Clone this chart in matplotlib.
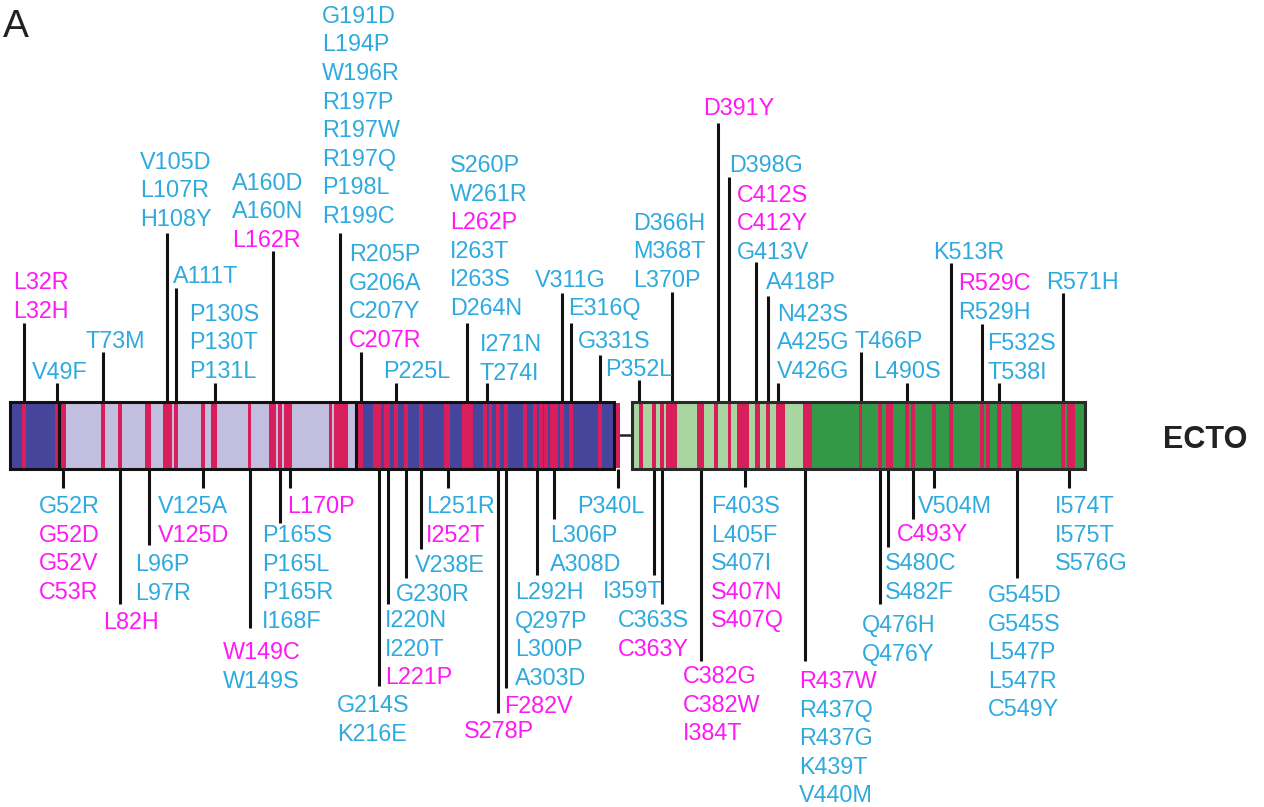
import matplotlib
matplotlib.use("Agg")
import matplotlib.pyplot as plt
from matplotlib.patches import Rectangle

# ---------------- data ----------------
# domains: (start residue, end residue, colour key, box id)
domain_start = [25, 50, 204, 347.5, 436]
domain_end = [50, 204, 338, 436, 582.5]
domain_kind = ["dark_blue", "lavender", "dark_blue", "light_green", "green"]
domain_box = [1, 1, 1, 2, 2]

# mutation groups above the bar
up_res = [32, 49, 73, 106, 111, 131, 161, 196, 207, 225, 262, 272, 311, 316,
          331, 351, 368, 392, 398, 412, 418, 423, 466, 490, 513, 529, 538, 571]
up_labels = [
    ["L32R", "L32H"], ["V49F"], ["T73M"], ["V105D", "L107R", "H108Y"], ["A111T"],
    ["P130S", "P130T", "P131L"], ["A160D", "A160N", "L162R"],
    ["G191D", "L194P", "W196R", "R197P", "R197W", "R197Q", "P198L", "R199C"],
    ["R205P", "G206A", "C207Y", "C207R"], ["P225L"],
    ["S260P", "W261R", "L262P", "I263T", "I263S", "D264N"], ["I271N", "T274I"],
    ["V311G"], ["E316Q"], ["G331S"], ["P352L"], ["D366H", "M368T", "L370P"],
    ["D391Y"], ["D398G"], ["C412S", "C412Y", "G413V"], ["A418P"],
    ["N423S", "A425G", "V426G"], ["T466P"], ["L490S"], ["K513R"],
    ["R529C", "R529H"], ["F532S", "T538I"], ["R571H"],
]

# mutation groups below the bar
down_res = [52.5, 82, 97, 125, 149, 165, 170, 216, 221, 230, 238, 252, 278, 282,
            298, 307, 340, 359, 363, 383, 406, 437, 476, 480, 493, 504, 547, 574]
down_labels = [
    ["G52R", "G52D", "G52V", "C53R"], ["L82H"], ["L96P", "L97R"], ["V125A", "V125D"],
    ["W149C", "W149S"], ["P165S", "P165L", "P165R", "I168F"], ["L170P"],
    ["G214S", "K216E"], ["I220N", "I220T", "L221P"], ["G230R"], ["V238E"],
    ["L251R", "I252T"], ["S278P"], ["F282V"], ["L292H", "Q297P", "L300P", "A303D"],
    ["L306P", "A308D"], ["P340L"], ["I359T"], ["C363S", "C363Y"],
    ["C382G", "C382W", "I384T"], ["F403S", "L405F", "S407I", "S407N", "S407Q"],
    ["R437W", "R437Q", "R437G", "K439T", "V440M"], ["Q476H", "Q476Y"],
    ["S480C", "S482F"], ["C493Y"], ["V504M"],
    ["G545D", "G545S", "L547P", "L547R", "C549Y"], ["I574T", "I575T", "S576G"],
]

# variants shown in magenta
magenta_labels = {
    "L32R", "L32H", "L162R", "C207R", "L262P", "D391Y", "C412S", "C412Y", "R529C",
    "G52D", "G52V", "C53R", "L82H", "V125D", "W149C", "L170P", "L221P", "I252T",
    "S278P", "F282V", "C363Y", "C382G", "C382W", "I384T", "S407N", "S407Q",
    "R437W", "C493Y",
}

protein_name = "ECTO"
panel_label = "A"

# ---------------- layout (pixels) ----------------
W, H = 1264, 807
PX_PER_RES = 1.9276
PX_OFFSET = -37.7
BAR_TOP, BAR_BOT = 402, 468.5
LINE_STEP = 28.6

# (text left px, baseline of line nearest the bar, leader end y)
up_layout = [
    (13, 318, 323), (32, 379, 383), (86, 348, 352), (140, 226, 233), (173, 283, 288),
    (189, 378, 383), (232, 247, 251), (322, 223, 233), (349, 347, 352), (383, 378, 383),
    (450, 315, 323), (480, 380, 383), (535, 287, 293), (568, 315, 323), (578, 348, 355),
    (605, 376, 380), (633, 287, 292), (703, 115, 123), (729, 172, 177), (737, 259, 262),
    (766, 289, 296), (777, 378, 383), (855, 348, 352), (873, 378, 383), (933, 259, 263),
    (958, 319, 324), (987, 379, 383), (1046, 289, 293),
]
down_layout = [
    (39, 513, 488), (103, 629, 604), (135, 571, 545), (158, 513, 488), (223, 659, 628),
    (262, 542, 523), (287, 513, 488), (337, 712, 686), (385, 627, 604), (396, 601, 578),
    (415, 572, 549), (426, 513, 488), (464, 738, 713), (504, 713, 688), (515, 599, 575),
    (550, 542, 519), (577, 513, 488), (603, 598, 575), (618, 627, 604), (683, 683, 661),
    (711, 513, 487), (799, 688, 661), (862, 632, 604), (885, 570, 547), (897, 541, 519),
    (918, 513, 488), (988, 602, 578), (1055, 513, 488),
]

colors = {
    "dark_blue": "#45459b",
    "lavender": "#c1bee0",
    "light_green": "#a9d6a0",
    "green": "#339946",
}
STRIPE = "#d81f5c"
CYAN = "#2eaadf"
MAGENTA = "#ff19f5"
FONT = "Liberation Sans"
FS = 16.8


def px2res(px):
    return (px - PX_OFFSET) / PX_PER_RES


fig = plt.figure(figsize=(W / 100, H / 100), dpi=100)
ax = fig.add_axes([0, 0, 1, 1])
ax.set_xlim(px2res(0), px2res(W))
ax.set_ylim(H, 0)
ax.axis("off")

# domains
bar_h = BAR_BOT - BAR_TOP
for s, e, k, b in zip(domain_start, domain_end, domain_kind, domain_box):
    ax.add_patch(Rectangle((s, BAR_TOP), e - s, bar_h, facecolor=colors[k],
                           edgecolor="none", zorder=2))
    if b == 1:
        ax.add_patch(Rectangle((s, BAR_TOP), e - s, bar_h, facecolor="none",
                               edgecolor="#111111", lw=2.2, zorder=5))

# outer box 2
b2s = min(s for s, b in zip(domain_start, domain_box) if b == 2)
b2e = max(e for e, b in zip(domain_end, domain_box) if b == 2)
b1e = max(e for e, b in zip(domain_end, domain_box) if b == 1)
ax.add_patch(Rectangle((b2s, BAR_TOP), b2e - b2s, bar_h, facecolor="none",
                       edgecolor="#2a2a2a", lw=2.2, zorder=5))
# linker
ax.plot([b1e, b2s], [(BAR_TOP + BAR_BOT) / 2] * 2, color="#222222", lw=1.8, zorder=1)

# mutation stripes
mut_res = set()
for labs in up_labels + down_labels:
    for lab in labs:
        mut_res.add(int(lab[1:-1]))
for r in sorted(mut_res):
    ax.add_patch(Rectangle((r - 1.0, BAR_TOP + 1), 2.0, bar_h - 2, facecolor=STRIPE,
                           edgecolor="none", zorder=3))


def draw_group(res, labels, layout, up):
    tx, base, lend = layout
    y0 = BAR_TOP if up else BAR_BOT
    ax.plot([res, res], [y0, lend], color="#111111", lw=2.2,
            solid_capstyle="butt", zorder=1)
    n = len(labels)
    for i, lab in enumerate(labels):
        if up:
            y = base - (n - 1 - i) * LINE_STEP
        else:
            y = base + i * LINE_STEP
        ax.text(px2res(tx), y, lab, ha="left", va="baseline", fontsize=FS,
                family=FONT, color=MAGENTA if lab in magenta_labels else CYAN)


for r, labs, lay in zip(up_res, up_labels, up_layout):
    draw_group(r, labs, lay, True)
for r, labs, lay in zip(down_res, down_labels, down_layout):
    draw_group(r, labs, lay, False)

ax.text(px2res(1163), 448, protein_name, ha="left", va="baseline", fontsize=22,
        fontweight="bold", family=FONT, color="#222222")
ax.text(px2res(3), 37, panel_label, ha="left", va="baseline", fontsize=28,
        family=FONT, color="#222222")

fig.savefig("out.png", dpi=100)
